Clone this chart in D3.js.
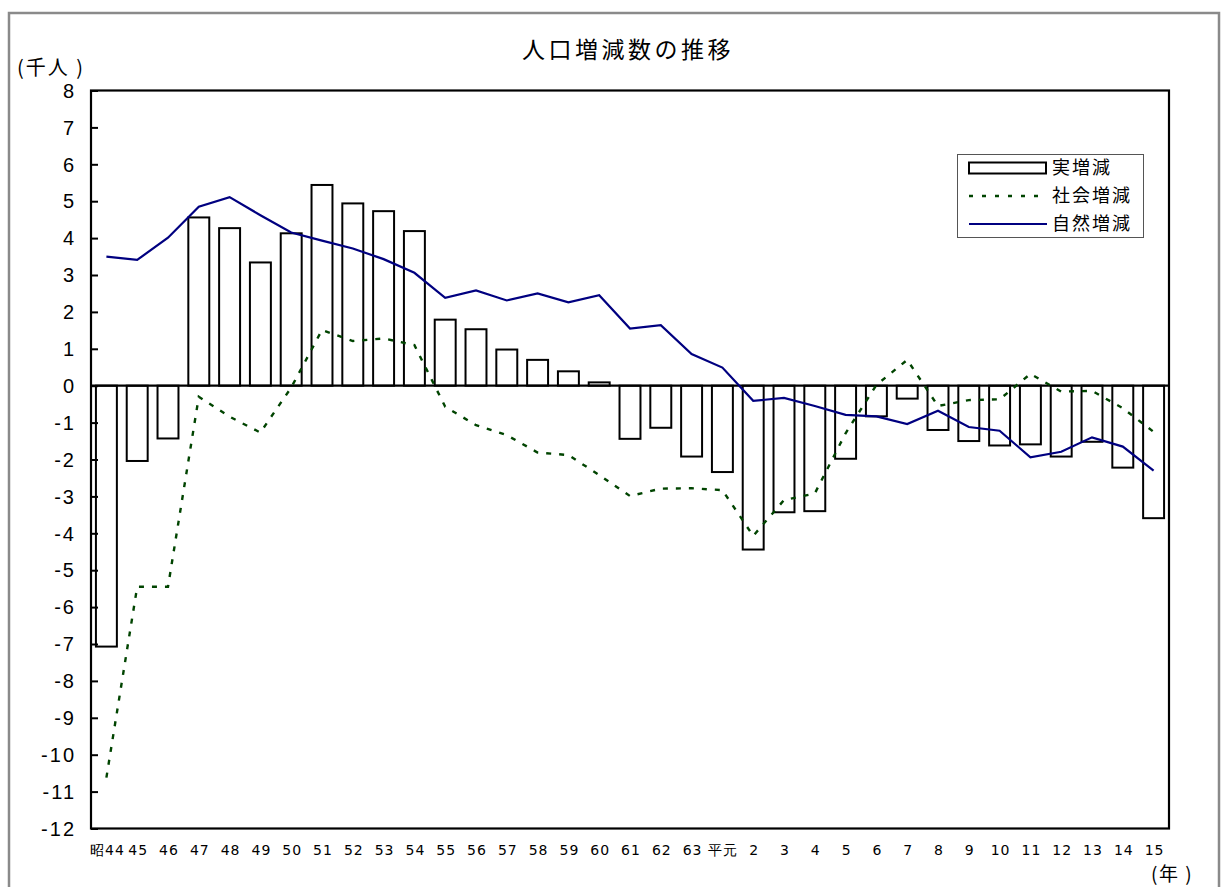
<!DOCTYPE html>
<html>
<head>
<meta charset="utf-8">
<script src="https://cdn.jsdelivr.net/npm/d3@7"></script>
<style>
  html, body { margin: 0; padding: 0; background: #fff; }
  svg { display: block; }
</style>
</head>
<body>
<svg id="chart" width="1223" height="887"></svg>
<script>
// Years (Showa 44 .. Showa 63, Heisei 1 .. Heisei 15)
const categories = ["昭44","45","46","47","48","49","50","51","52","53","54","55","56","57","58","59","60","61","62","63","平元","2","3","4","5","6","7","8","9","10","11","12","13","14","15"];

// 実増減 (net change, thousand persons)
const netChange = [-7.07,-2.04,-1.43,4.56,4.27,3.34,4.13,5.44,4.94,4.73,4.19,1.79,1.53,0.98,0.70,0.39,0.09,-1.44,-1.14,-1.92,-2.34,-4.44,-3.43,-3.40,-1.98,-0.83,-0.35,-1.20,-1.50,-1.62,-1.59,-1.92,-1.52,-2.22,-3.59];

// 社会増減 (social change)
const socialChange = [-10.62,-5.45,-5.45,-0.30,-0.84,-1.27,-0.05,1.51,1.21,1.28,1.10,-0.57,-1.07,-1.34,-1.81,-1.88,-2.42,-2.99,-2.79,-2.78,-2.83,-4.07,-3.10,-2.92,-1.29,0.02,0.70,-0.55,-0.39,-0.37,0.32,-0.16,-0.14,-0.61,-1.25];

// 自然増減 (natural change)
const naturalChange = [3.50,3.41,4.01,4.85,5.11,4.62,4.15,3.93,3.72,3.43,3.06,2.38,2.58,2.31,2.50,2.26,2.45,1.55,1.64,0.86,0.49,-0.41,-0.33,-0.55,-0.79,-0.83,-1.04,-0.68,-1.12,-1.22,-1.94,-1.79,-1.40,-1.65,-2.30];

const yTicks = [8,7,6,5,4,3,2,1,0,-1,-2,-3,-4,-5,-6,-7,-8,-9,-10,-11,-12];

const seriesNames = ["実増減","社会増減","自然増減"];

const svg = d3.select("#chart");
const plot = { left: 91, right: 1169, top: 90.5, bottom: 828.5 };

const x = d3.scaleBand()
  .domain(categories)
  .range([plot.left, plot.right])
  .paddingInner(0.32)
  .paddingOuter(0.16);

const y = d3.scaleLinear()
  .domain([-12, 8])
  .range([plot.bottom, plot.top]);

const cx = d => x(d) + x.bandwidth() / 2;

// outer frame
svg.append("rect")
  .attr("x", 9).attr("y", 13)
  .attr("width", 1210).attr("height", 900)
  .attr("fill", "#fff")
  .attr("stroke", "#8a8a8a").attr("stroke-width", 2.5);

// title
svg.append("text")
  .attr("x", 628).attr("y", 58)
  .attr("text-anchor", "middle")
  .attr("font-family", "'Noto Sans CJK JP', sans-serif")
  .attr("font-size", 23)
  .attr("letter-spacing", 3.5)
  .attr("fill", "#000")
  .text("人口増減数の推移");

// unit labels
svg.append("text")
  .attr("x", 17).attr("y", 75)
  .attr("font-family", "'Noto Sans CJK JP', sans-serif")
  .attr("font-size", 20)
  .attr("letter-spacing", 2)
  .attr("fill", "#000")
  .text("(千人 )");

svg.append("text")
  .attr("x", 1151).attr("y", 881)
  .attr("font-family", "'Noto Sans CJK JP', sans-serif")
  .attr("font-size", 19)
  .attr("letter-spacing", 1.5)
  .attr("fill", "#000")
  .text("(年 )");

// bars
svg.append("g")
  .selectAll("rect")
  .data(categories.map((c, i) => ({ c, v: netChange[i] })))
  .join("rect")
  .attr("x", d => x(d.c))
  .attr("width", x.bandwidth())
  .attr("y", d => y(Math.max(0, d.v)))
  .attr("height", d => Math.abs(y(d.v) - y(0)))
  .attr("fill", "#fff")
  .attr("stroke", "#000")
  .attr("stroke-width", 2);

// zero line
svg.append("line")
  .attr("x1", plot.left).attr("x2", plot.right)
  .attr("y1", y(0)).attr("y2", y(0))
  .attr("stroke", "#000").attr("stroke-width", 2.2);

// lines
const lineGen = vals => d3.line()
  .x((d, i) => cx(categories[i]))
  .y(d => y(d))(vals);

svg.append("path")
  .attr("d", lineGen(socialChange))
  .attr("fill", "none")
  .attr("stroke", "#004400")
  .attr("stroke-width", 2.4)
  .attr("stroke-dasharray", "5,8");

svg.append("path")
  .attr("d", lineGen(naturalChange))
  .attr("fill", "none")
  .attr("stroke", "#000080")
  .attr("stroke-width", 2.2);

// plot frame
svg.append("rect")
  .attr("x", plot.left).attr("y", plot.top)
  .attr("width", plot.right - plot.left)
  .attr("height", plot.bottom - plot.top)
  .attr("fill", "none")
  .attr("stroke", "#000").attr("stroke-width", 2.2);

// y axis (ticks pointing inward)
const yAxis = d3.axisRight(y)
  .tickValues(yTicks)
  .tickSize(7)
  .tickFormat("");
const yg = svg.append("g")
  .attr("transform", `translate(${plot.left},0)`)
  .call(yAxis);
yg.select(".domain").remove();
yg.selectAll(".tick line").attr("stroke", "#000").attr("stroke-width", 2);

svg.append("g")
  .selectAll("text")
  .data(yTicks)
  .join("text")
  .attr("x", 76)
  .attr("y", d => y(d))
  .attr("dy", "0.36em")
  .attr("text-anchor", "end")
  .attr("font-family", "'Liberation Sans', Arial, sans-serif")
  .attr("font-size", 20)
  .attr("letter-spacing", 2)
  .attr("fill", "#000")
  .text(d => d);

// x axis labels
const xAxis = d3.axisBottom(x).tickSize(0).tickPadding(0);
const xg = svg.append("g")
  .attr("transform", `translate(1,${plot.bottom + 26})`)
  .call(xAxis);
xg.select(".domain").remove();
xg.selectAll(".tick text")
  .attr("font-family", "'DejaVu Sans', sans-serif")
  .attr("font-size", 14)
  .attr("letter-spacing", 1)
  .attr("dy", 0)
  .attr("fill", "#000");

// legend
const lg = svg.append("g");
lg.append("rect")
  .attr("x", 957.5).attr("y", 154.5)
  .attr("width", 186).attr("height", 83)
  .attr("fill", "#fff")
  .attr("stroke", "#555").attr("stroke-width", 1);

const legendRows = [168, 196, 224];
lg.append("rect")
  .attr("x", 969).attr("y", legendRows[0] - 5.5)
  .attr("width", 77).attr("height", 11)
  .attr("fill", "#fff").attr("stroke", "#000").attr("stroke-width", 2);
lg.append("line")
  .attr("x1", 969).attr("x2", 1047)
  .attr("y1", legendRows[1]).attr("y2", legendRows[1])
  .attr("stroke", "#004400").attr("stroke-width", 2.4)
  .attr("stroke-dasharray", "4,9");
lg.append("line")
  .attr("x1", 969).attr("x2", 1047)
  .attr("y1", legendRows[2]).attr("y2", legendRows[2])
  .attr("stroke", "#000080").attr("stroke-width", 2.2);

lg.selectAll("text.leg")
  .data(seriesNames)
  .join("text")
  .attr("class", "leg")
  .attr("x", 1052)
  .attr("y", (d, i) => legendRows[i])
  .attr("dy", "0.36em")
  .attr("font-family", "'Noto Sans CJK JP', sans-serif")
  .attr("font-size", 18)
  .attr("letter-spacing", 2)
  .attr("fill", "#000")
  .text(d => d);
</script>
</body>
</html>
